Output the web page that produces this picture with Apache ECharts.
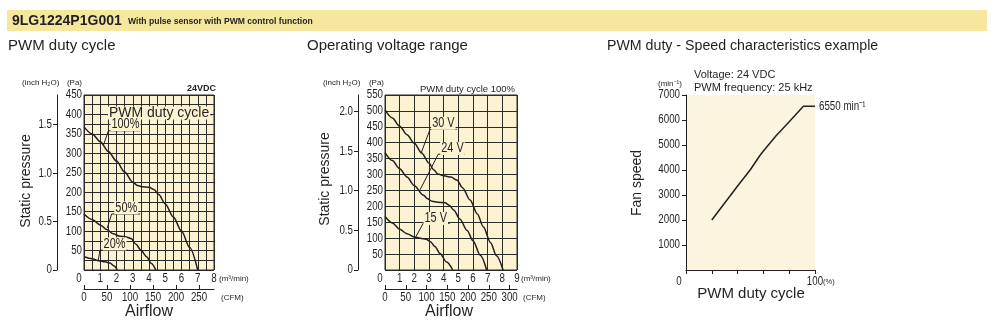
<!DOCTYPE html>
<html>
<head>
<meta charset="utf-8">
<script src="https://cdn.jsdelivr.net/npm/echarts@6/dist/echarts.min.js"></script>
<style>
  html, body { margin: 0; padding: 0; background: #ffffff; }
  #chart { width: 1000px; height: 328px; }
</style>
</head>
<body>
<div id="chart"></div>
<script>
// ---- Data: airflow (m³/min) vs static pressure (Pa) at several PWM duty cycles, 24 VDC
const duty100 = [[0,368],[0.5,350],[1,330],[1.5,305],[2,280],[2.5,252],[3,226],[3.3,217],[3.6,214],[4,213],[4.3,207],[4.6,194],[5,170],[5.5,136],[6,100],[6.5,58],[7,0]];
const duty50  = [[0,144],[0.5,130],[1,116],[1.4,104],[1.8,93],[2.2,87],[2.6,85],[2.9,81],[3.2,66],[3.5,51],[3.85,34],[4.15,17],[4.42,0]];
const duty20  = [[0,34],[0.5,29],[0.9,24],[1.3,21],[1.6,18],[1.85,10],[2.05,0]];

// ---- Data: airflow vs static pressure at 100 % duty for several supply voltages
const volt30 = [[0,503],[0.5,478],[1,452],[1.5,425],[2,398],[2.5,368],[3,336],[3.3,316],[3.6,302],[4,296],[4.5,292],[4.9,283],[5.3,258],[5.8,220],[6.3,176],[6.7,136],[7.2,86],[7.6,45],[8.05,0]];
const volt24 = [[0,369],[0.5,344],[1,318],[1.5,292],[2,265],[2.6,236],[2.9,224],[3.2,216],[3.6,213],[4.1,211],[4.4,203],[4.7,188],[5.1,160],[5.6,124],[6,92],[6.5,46],[6.93,0]];
const volt15 = [[0,168],[0.5,148],[1,128],[1.5,114],[2,104],[2.4,100],[2.8,97],[3.1,89],[3.4,74],[3.75,52],[4.2,25],[4.62,0]];

// ---- Data: PWM duty (%) vs fan speed (min⁻¹)
const speedCurve = [[20,2000],[30,2680],[40,3360],[50,4020],[57,4560],[60,4760],[70,5380],[80,5930],[91,6550],[100,6550]];
const maxSpeed = 6550;

// ---- Tick labels
const flowTicks1  = [0,1,2,3,4,5,6,7,8];
const flowTicks2  = [0,1,2,3,4,5,6,7,8,9];
const paTicks1    = [50,100,150,200,250,300,350,400,450];
const paTicks2    = [50,100,150,200,250,300,350,400,450,500,550];
const inchTicks1  = [0,0.5,1.0,1.5];
const inchTicks2  = [0,0.5,1.0,1.5,2.0];
const cfmTicks1   = [0,50,100,150,200,250];
const cfmTicks2   = [0,50,100,150,200,250,300];
const speedTicks  = [1000,2000,3000,4000,5000,6000,7000];
const dutyTicks   = [0,20,40,60,80,100];
const dutyLabels  = [0,100];

// unit conversions for the secondary axes
const PA_PER_INCH = 249.089;
const CFM_PER_M3MIN = 35.3147;

// curve labels with their leader lines (data coordinates of each plot)
const notes1 = [
  { text: 'PWM duty cycle', at: [4.62, 404], lead: [[1.42, 399], [7.88, 399]], narrow: false },
  { text: '100%', at: [2.55, 374], lead: [[3.45, 358], [1.5, 358], [1.19, 320]], narrow: true },
  { text: '50%',  at: [2.6, 160],  lead: [[3.45, 144], [1.7, 144], [1.43, 108]], narrow: true },
  { text: '20%',  at: [1.88, 67],  lead: [[2.7, 51],   [0.98, 51], [0.88, 25]],  narrow: true }
];
const notes2 = [
  { text: '30 V', at: [3.98, 461], lead: [[4.89, 442], [3.07, 442], [2.45, 366]], narrow: true },
  { text: '24 V', at: [4.6, 382],  lead: [[5.45, 364], [3.63, 364], [2.39, 252]], narrow: true },
  { text: '15 V', at: [3.46, 162], lead: [[4.43, 147], [2.61, 147], [2.11, 105]], narrow: true }
];

const INK = '#231f20';
const PLOT_BG = '#fbf3d2';
const PLOT_BG3 = '#fbf5df';
const GRID_LINE = '#2b2b2b';
const SANS = "'Liberation Sans', Arial, Helvetica, sans-serif";
const SQUEEZE = 0.78;           // horizontal squeeze for the condensed numerals
const NUM_FONT = '12.5px ' + SANS;

function flowAxis(grid, max, interval) {
  return {
    gridIndex: grid, type: 'value', min: 0, max: max, interval: interval,
    axisLine: { show: false }, axisTick: { show: false }, axisLabel: { show: false },
    splitLine: { show: true, lineStyle: { color: GRID_LINE, width: 1 } }
  };
}
function cfmAxis(grid, maxFlow, ticks) {
  return {
    gridIndex: grid, type: 'value', position: 'bottom', offset: 19,
    min: 0, max: maxFlow * CFM_PER_M3MIN,
    axisLine: { show: true, onZero: false, lineStyle: { color: INK, width: 1 } },
    axisTick: { show: true, inside: true, length: 4, customValues: ticks, lineStyle: { color: INK } },
    axisLabel: { show: false }, splitLine: { show: false }
  };
}
function paAxis(grid, max, interval) {
  return {
    gridIndex: grid, type: 'value', min: 0, max: max, interval: interval,
    axisLine: { show: false }, axisTick: { show: false }, axisLabel: { show: false },
    splitLine: { show: true, lineStyle: { color: GRID_LINE, width: 1 } }
  };
}
function inchAxis(grid, maxPa, ticks) {
  return {
    gridIndex: grid, type: 'value', position: 'left', offset: 27,
    min: 0, max: maxPa / PA_PER_INCH,
    axisLine: { show: true, onZero: false, lineStyle: { color: INK, width: 1 } },
    axisTick: { show: true, length: 4, customValues: ticks, lineStyle: { color: INK } },
    axisLabel: { show: false }, splitLine: { show: false }
  };
}

function curve(data, xi, yi, smooth) {
  return {
    type: 'line', xAxisIndex: xi, yAxisIndex: yi, data: data,
    showSymbol: false, symbol: 'none', smooth: smooth, smoothMonotone: 'x', silent: true,
    lineStyle: { color: INK, width: 1.5 }, z: 3
  };
}
function leaders(notes, xi, yi) {
  return notes.map(n => ({
    type: 'line', xAxisIndex: xi, yAxisIndex: yi, data: n.lead,
    showSymbol: false, symbol: 'none', silent: true,
    lineStyle: { color: INK, width: 1 }, z: 4
  }));
}

function txt(x, y, text, font, align, vAlign, rotation) {
  return {
    type: 'text', x: x, y: y, rotation: rotation || 0, silent: true, z: 20,
    style: { text: text, font: font, fill: INK, align: align || 'left', verticalAlign: vAlign || 'middle' }
  };
}
// condensed numerals / labels
function ntxt(x, y, text, align, font) {
  const el = txt(x, y, text, font || NUM_FONT, align, 'middle');
  el.scaleX = SQUEEZE;
  return el;
}

const measureCtx = document.createElement('canvas').getContext('2d');
function textWidth(text, font) {
  measureCtx.font = font;
  return measureCtx.measureText(text).width;
}

const chart = echarts.init(document.getElementById('chart'), null, { renderer: 'canvas' });

chart.setOption({
  animation: false,
  backgroundColor: '#ffffff',
  grid: [
    { left: 84,  top: 95, width: 130, height: 175, show: true, backgroundColor: PLOT_BG, borderColor: GRID_LINE, borderWidth: 1 },
    { left: 385, top: 95, width: 132, height: 175, show: true, backgroundColor: PLOT_BG, borderColor: GRID_LINE, borderWidth: 1 },
    { left: 686, top: 95, width: 129, height: 175, show: true, backgroundColor: PLOT_BG3, borderWidth: 0 }
  ],
  xAxis: [
    flowAxis(0, 8, 0.5),
    cfmAxis(0, 8, cfmTicks1),
    flowAxis(1, 9, 1),
    cfmAxis(1, 9, cfmTicks2),
    {
      gridIndex: 2, type: 'value', min: 0, max: 100, interval: 20,
      axisLine: { show: true, onZero: false, lineStyle: { color: INK, width: 1 } },
      axisTick: { show: true, length: 4, customValues: dutyTicks, lineStyle: { color: INK } },
      axisLabel: { show: false }, splitLine: { show: false }
    }
  ],
  yAxis: [
    paAxis(0, 450, 25),
    inchAxis(0, 450, inchTicks1),
    paAxis(1, 550, 50),
    inchAxis(1, 550, inchTicks2),
    {
      gridIndex: 2, type: 'value', min: 0, max: 7000, interval: 1000,
      axisLine: { show: true, onZero: false, lineStyle: { color: INK, width: 1 } },
      axisTick: { show: true, length: 4, customValues: speedTicks, lineStyle: { color: INK } },
      axisLabel: { show: false }, splitLine: { show: false }
    }
  ],
  series: [
    curve(duty100, 0, 0, 0.3), curve(duty50, 0, 0, 0.3), curve(duty20, 0, 0, 0.3),
    ...leaders(notes1, 0, 0),
    curve(volt30, 2, 2, 0.3), curve(volt24, 2, 2, 0.3), curve(volt15, 2, 2, 0.3),
    ...leaders(notes2, 2, 2),
    curve(speedCurve, 4, 4, false)
  ]
});

// ---- tick labels and annotations placed through the axes' own scales
const g = [
  // model banner
  { type: 'rect', silent: true, z: 10, shape: { x: 7, y: 10, width: 980, height: 21 }, style: { fill: '#f5e89e' } },
  txt(12, 21, '9LG1224P1G001', 'bold 14px ' + SANS),
  txt(128, 21.5, 'With pulse sensor with PWM control function', 'bold 8.6px ' + SANS),
  // chart titles
  txt(8, 46, 'PWM duty cycle', '15px ' + SANS),
  txt(307, 46, 'Operating voltage range', '15px ' + SANS),
  txt(607, 46, 'PWM duty - Speed characteristics example', '14.2px ' + SANS),
  // PWM duty cycle plot texts
  txt(22, 83, '(inch H₂O)', '8px ' + SANS),
  txt(82, 83, '(Pa)', '8px ' + SANS, 'right'),
  txt(216, 89, '24VDC', 'bold 9px ' + SANS, 'right'),
  txt(219, 279, '(m³/min)', '8px ' + SANS),
  txt(221, 298, '(CFM)', '8px ' + SANS),
  txt(149, 312, 'Airflow', '16px ' + SANS, 'center'),
  txt(26, 181, 'Static pressure', '14px ' + SANS, 'center', 'middle', Math.PI / 2),
  // Operating voltage plot texts
  txt(323, 83, '(inch H₂O)', '8px ' + SANS),
  txt(384, 83, '(Pa)', '8px ' + SANS, 'right'),
  txt(515, 89, 'PWM duty cycle 100%', '9.5px ' + SANS, 'right'),
  txt(521, 279, '(m³/min)', '8px ' + SANS),
  txt(523, 298, '(CFM)', '8px ' + SANS),
  txt(449, 312, 'Airflow', '16px ' + SANS, 'center'),
  txt(325, 179, 'Static pressure', '14px ' + SANS, 'center', 'middle', Math.PI / 2),
  // Speed plot texts
  txt(694, 75, 'Voltage: 24 VDC', '11px ' + SANS),
  txt(694, 88, 'PWM frequency: 25 kHz', '11px ' + SANS),
  txt(658, 84, '(min⁻¹)', '8px ' + SANS),
  txt(823, 282, '(%)', '7.5px ' + SANS),
  txt(751, 294, 'PWM duty cycle', '15px ' + SANS, 'center'),
  txt(637, 183, 'Fan speed', '14px ' + SANS, 'center', 'middle', Math.PI / 2)
];

const X = (i, v) => chart.convertToPixel({ xAxisIndex: i }, v);
const Y = (i, v) => chart.convertToPixel({ yAxisIndex: i }, v);
const inchFmt = v => (v === 0 ? '0' : v.toFixed(1));

// airflow (m³/min) labels under each pressure plot
[[0, flowTicks1], [2, flowTicks2]].forEach(([ai, ticks]) => {
  ticks.forEach(v => g.push(ntxt(X(ai, v) - (v === 0 ? 5 : 0), 279, String(v), 'center')));
});
// CFM labels
[[1, cfmTicks1], [3, cfmTicks2]].forEach(([ai, ticks]) => {
  ticks.forEach(v => g.push(ntxt(X(ai, v), 298, String(v), 'center')));
});
// Pa labels
[[0, paTicks1, 84], [2, paTicks2, 385]].forEach(([ai, ticks, left]) => {
  ticks.forEach(v => g.push(ntxt(left - 2, Y(ai, v), String(v), 'right')));
});
// inch H₂O labels
[[1, inchTicks1, 84 - 27], [3, inchTicks2, 385 - 27]].forEach(([ai, ticks, axisX]) => {
  ticks.forEach(v => g.push(ntxt(axisX - 5, Y(ai, v), inchFmt(v), 'right')));
});
// fan speed labels
speedTicks.forEach(v => g.push(ntxt(686 - 6, Y(4, v), String(v), 'right')));
// duty labels
dutyLabels.forEach(v => g.push(ntxt(X(4, v) - (v === 0 ? 7 : 0), 282, String(v), 'center')));
// maximum speed callout at the end of the curve
const endPt = chart.convertToPixel({ gridIndex: 2 }, speedCurve[speedCurve.length - 1]);
g.push(ntxt(endPt[0] + 4, endPt[1], maxSpeed + ' min⁻¹', 'left'));

// curve labels sitting on a plot-coloured patch that hides the grid behind them
[[0, notes1], [1, notes2]].forEach(([gi, notes]) => {
  notes.forEach(n => {
    const p = chart.convertToPixel({ gridIndex: gi }, n.at);
    const font = '14px ' + SANS;
    const w = textWidth(n.text, font) * (n.narrow ? SQUEEZE : 1) + 2;
    g.push({
      type: 'rect', silent: true, z: 19,
      shape: { x: p[0] - w / 2, y: p[1] - 6.5, width: w, height: 13 },
      style: { fill: PLOT_BG }
    });
    g.push(n.narrow ? ntxt(p[0], p[1], n.text, 'center', font)
                    : txt(p[0], p[1], n.text, font, 'center', 'middle'));
  });
});

chart.setOption({ graphic: g });
</script>
</body>
</html>
